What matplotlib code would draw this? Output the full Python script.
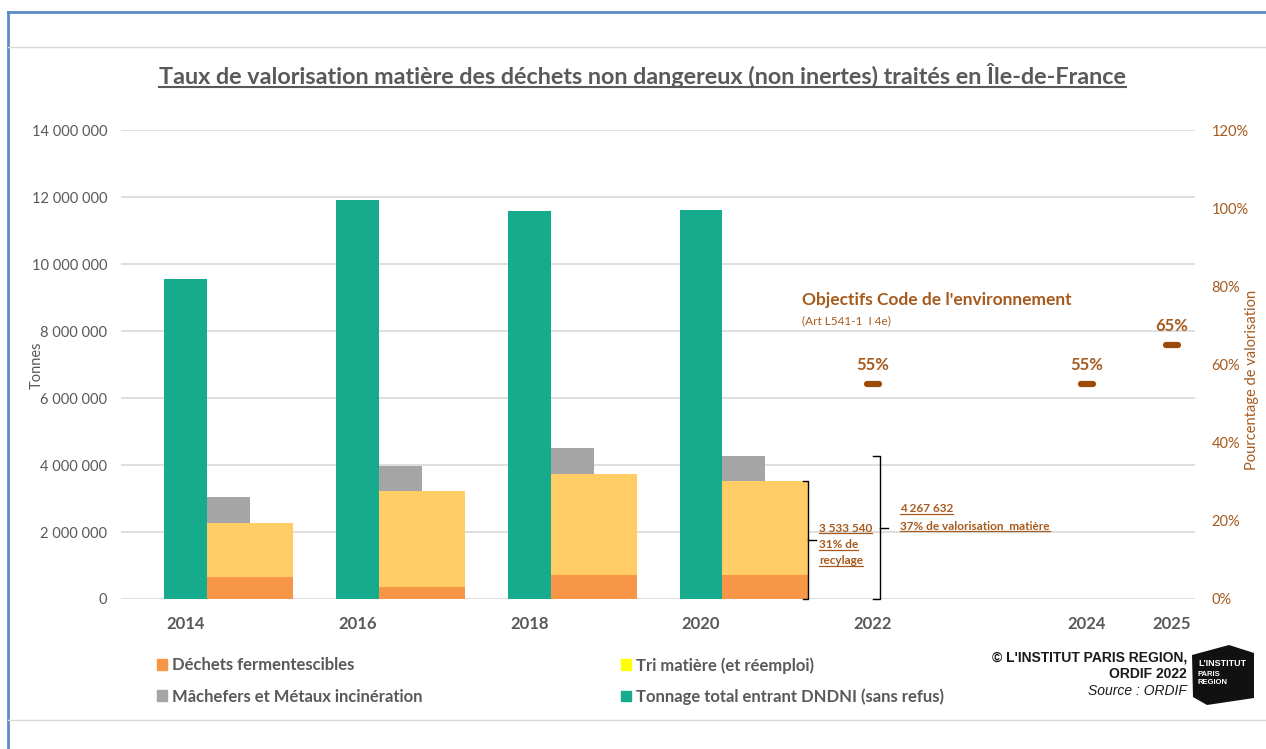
import matplotlib
matplotlib.use('Agg')
import matplotlib.pyplot as plt
from matplotlib import font_manager
from matplotlib.lines import Line2D
from matplotlib.patches import Patch, Polygon
from matplotlib.markers import MarkerStyle
from matplotlib.ticker import FuncFormatter

# --- data ---
years = ['2014', '2016', '2018', '2020', '2022', '2024', '2025']
fermentescibles = [660000, 360000, 720000, 720000]
tri_matiere = [1610000, 2860000, 3010000, 2813540]
machefers = [770000, 750000, 770000, 734092]
tonnage_total = [9550000, 11910000, 11580000, 11610000]
objectif_years = ['2022', '2024', '2025']
objectif_pct = [55, 55, 65]

# x position of each category (the source axis is not evenly spaced)
x_pos = [0, 1, 2.003, 2.999, 4.0, 5.246, 5.741]

names = {f.name for f in font_manager.fontManager.ttflist}


def pick(*cands):
    for c in cands:
        if c in names:
            return c
    return 'DejaVu Sans'


FONT = pick('Lato', 'Open Sans', 'DejaVu Sans')
NARROW = pick('Liberation Sans Narrow', 'Liberation Sans', 'DejaVu Sans')
plt.rcParams['font.family'] = [FONT, 'DejaVu Sans']

GREY_TXT = '#595959'
BROWN = '#A65A1E'
DARK_BROWN = '#9C4A08'
C_ORANGE = '#F79646'
C_YELLOW_BAR = '#FFCC66'
C_YELLOW_LEG = '#FFFF00'
C_GREY = '#A5A5A5'
C_GREEN = '#17AB8E'

W, H = 1266, 749
fig = plt.figure(figsize=(W / 100, H / 100), dpi=100)


def fx(px):
    return px / W


def fy(py):
    return 1 - py / H


ax = fig.add_axes([fx(121), fy(599), fx(1195) - fx(121), fy(130) - fy(599)])
ax2 = ax.twinx()

pos_bars = x_pos[:len(tonnage_total)]
ax.bar([p - 0.125 for p in pos_bars], tonnage_total, width=0.25, align='edge', color=C_GREEN, zorder=3)
ax.bar([p + 0.125 for p in pos_bars], fermentescibles, width=0.5, align='edge', color=C_ORANGE, zorder=3)
ax.bar([p + 0.125 for p in pos_bars], tri_matiere, bottom=fermentescibles, width=0.5, align='edge',
       color=C_YELLOW_BAR, zorder=3)
stack = [a + b for a, b in zip(fermentescibles, tri_matiere)]
ax.bar([p + 0.125 for p in pos_bars], machefers, bottom=stack, width=0.25, align='edge',
       color=C_GREY, zorder=3)

ax.set_xlim(-0.378, 5.875)
ax.set_ylim(0, 14000000)
ax.set_yticks(range(0, 14000001, 2000000))
ax.yaxis.set_major_formatter(FuncFormatter(lambda v, _: f'{int(v):,}'.replace(',', ' ')))
ax.grid(axis='y', color='#D9D9D9', linewidth=1.2, zorder=0)
ax.set_axisbelow(True)
for s in ax.spines.values():
    s.set_visible(False)
for s in ax2.spines.values():
    s.set_visible(False)
ax.tick_params(axis='y', length=0, labelsize=10.5, labelcolor=GREY_TXT, pad=10)
ax.set_xticks(x_pos)
ax.set_xticklabels(years, fontsize=12, fontweight='bold', color=GREY_TXT)
ax.tick_params(axis='x', length=0, pad=12)
ax.set_ylabel('Tonnes', fontsize=10.5, color=GREY_TXT)
ax.yaxis.set_label_coords(-0.072, 0.499)

ax2.set_ylim(0, 120)
ax2.set_yticks(range(0, 121, 20))
ax2.yaxis.set_major_formatter(FuncFormatter(lambda v, _: f'{int(v)}%'))
ax2.tick_params(axis='y', length=0, labelsize=10.5, labelcolor=BROWN, pad=12)
ax2.set_ylabel('Pourcentage de valorisation', fontsize=10.5, color=BROWN)
ax2.yaxis.set_label_coords(1.047, 0.467)

# objectives
obj_x = [x_pos[years.index(y)] for y in objectif_years]
ax2.plot(obj_x, objectif_pct, linestyle='none', marker=MarkerStyle('_', capstyle='round'),
         markersize=8, markeredgewidth=4.5, color=DARK_BROWN, zorder=5)
for xv, pv in zip(obj_x, objectif_pct):
    ax2.annotate(f'{pv}%', (xv, pv), xytext=(0, 8), textcoords='offset points',
                 ha='center', va='bottom', fontsize=12, fontweight='bold', color=BROWN)

fig.text(fx(802), fy(300), "Objectifs Code de l'environnement", fontsize=12.5, fontweight='bold',
         color=BROWN, va='center', ha='left')
fig.text(fx(802), fy(321), '(Art L541-1  I 4e)', fontsize=8.5, color=BROWN, va='center', ha='left')

# braces
def brace(xb, top, bottom_v, mid_tip, hook):
    ax.plot([xb - hook, xb, xb, xb - hook], [top, top, bottom_v, bottom_v], color='black',
            linewidth=1, zorder=6, clip_on=False)
    mid = (top + bottom_v) / 2
    ax.plot([xb, xb + mid_tip], [mid, mid], color='black', linewidth=1, zorder=6, clip_on=False)


brace(x_pos[3] + 0.625, stack[3], 0, 0.045, 0.03)
brace(x_pos[3] + 1.04, stack[3] + machefers[3], 0, 0.05, 0.04)

under_texts = []
for txt, px, py in [('3 533 540', 819, 528), ('31% de', 819, 545), ('recylage', 819, 561),
                    ('4 267 632', 900, 509), ('37% de valorisation  matière', 900, 526)]:
    under_texts.append(fig.text(fx(px), fy(py), txt, fontsize=8.5, fontweight='bold', color=BROWN,
                                va='center', ha='left'))

# title
title = fig.text(0.5075, fy(75), 'Taux de valorisation matière des déchets non dangereux (non inertes) traités en Île-de-France',
                 fontsize=16.8, fontweight='bold', color=GREY_TXT, ha='center', va='center')

# legend
leg_kw = dict(loc='center left', frameon=False, handlelength=0.6, handleheight=0.6, handletextpad=0.3,
              labelspacing=0.9, prop={'size': 12, 'weight': 'bold'}, labelcolor=GREY_TXT)
fig.legend([Patch(color=C_ORANGE), Patch(color=C_GREY)],
           ['Déchets fermentescibles', 'Mâchefers et Métaux incinération'],
           bbox_to_anchor=(fx(142), fy(681)), **leg_kw)
fig.legend([Patch(color=C_YELLOW_LEG), Patch(color=C_GREEN)],
           ['Tri matière (et réemploi)', 'Tonnage total entrant DNDNI (sans refus)'],
           bbox_to_anchor=(fx(606), fy(681)), **leg_kw)

# credits and logo
fig.text(fx(1187), fy(657), "© L'INSTITUT PARIS REGION,", family=NARROW, fontsize=10, fontweight='bold',
         ha='right', va='center', color='#1a1a1a')
fig.text(fx(1187), fy(674), 'ORDIF 2022', family=NARROW, fontsize=10, fontweight='bold',
         ha='right', va='center', color='#1a1a1a')
fig.text(fx(1187), fy(691), 'Source : ORDIF', family=NARROW, fontsize=10, style='italic',
         ha='right', va='center', color='#1a1a1a')
logo = [(1192, 655), (1229, 645), (1254, 653), (1254, 698), (1207, 705), (1193, 697)]
fig.add_artist(Polygon([(fx(a), fy(b)) for a, b in logo], closed=True, transform=fig.transFigure,
                       facecolor='#111111', edgecolor='none'))
fig.text(fx(1198), fy(664), "L'INSTITUT", family=NARROW, fontsize=6.5, fontweight='bold', color='white',
         va='center', ha='left')
fig.text(fx(1198), fy(675), 'PARIS', family=NARROW, fontsize=5.5, fontweight='bold', color='white',
         va='center', ha='left')
fig.text(fx(1198), fy(683), 'REGION', family=NARROW, fontsize=5.5, fontweight='bold', color='white',
         va='center', ha='left')

# frame lines
fig.add_artist(Line2D([fx(8), 1], [fy(12), fy(12)], color='#5B8BC9', linewidth=2, transform=fig.transFigure))
fig.add_artist(Line2D([fx(8), fx(8)], [fy(12), 0], color='#5B8BC9', linewidth=2, transform=fig.transFigure))
fig.add_artist(Line2D([fx(8), 1], [fy(47), fy(47)], color='#D9D9D9', linewidth=1, transform=fig.transFigure))
fig.add_artist(Line2D([fx(8), 1], [fy(720), fy(720)], color='#D9D9D9', linewidth=1, transform=fig.transFigure))

# underlines
fig.canvas.draw()
inv = fig.transFigure.inverted()


def underline(t, color, lw, pad):
    bb = t.get_window_extent()
    (x0, y0), (x1, _) = inv.transform([(bb.x0, bb.y0 + pad), (bb.x1, bb.y0 + pad)])
    fig.add_artist(Line2D([x0, x1], [y0, y0], color=color, linewidth=lw, transform=fig.transFigure))


underline(title, GREY_TXT, 1.5, 1)
for t in under_texts:
    underline(t, BROWN, 0.9, 1)

fig.savefig('out.png', dpi=100)
